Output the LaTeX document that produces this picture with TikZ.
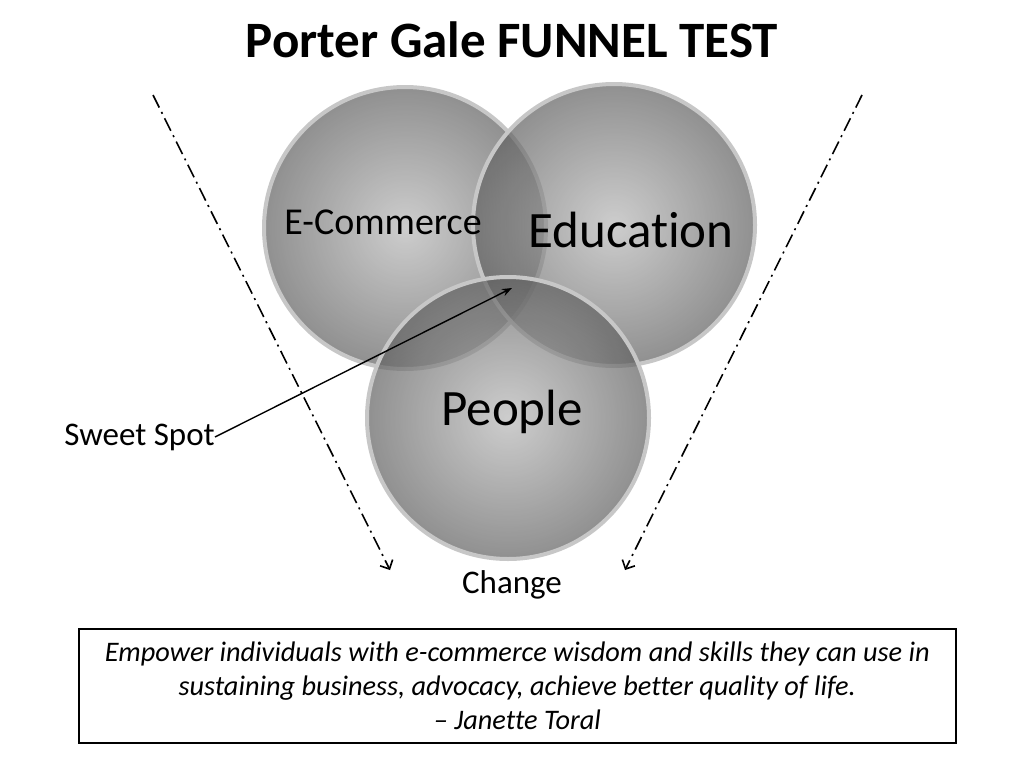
\documentclass[tikz,border=0pt]{standalone}
\usepackage{fontspec}
\setmainfont{Carlito}[Ligatures={NoCommon,TeX}]
\usetikzlibrary{arrows.meta}
\begin{document}
\begin{tikzpicture}[x=1pt,y=-1pt,
  venn/.style={circle,minimum size=282pt,inner color=black!28,outer color=black!62,fill opacity=0.7,draw=black!22,line width=4pt,draw opacity=1},
  funnel/.style={dash pattern=on 14pt off 5pt on 2pt off 5pt,line width=1.6pt,-{Straight Barb[length=7pt]}},
  lbl/.style={font=\fontsize{33}{38}\selectfont}]
\useasboundingbox (0,0) rectangle (1024,768);
\node[font=\bfseries\fontsize{51}{58}\selectfont] (title) at (512,40) {Porter Gale FUNNEL TEST};
\node[venn] (ec) at (405,228) {};
\node[venn] (ed) at (614,225) {};
\node[venn] (pe) at (508,418) {};
\node[font=\fontsize{38}{44}\selectfont] (ect) at (383,222) {E-Commerce};
\node[font=\fontsize{51}{58}\selectfont] (edt) at (631,230) {Education};
\node[font=\fontsize{51}{58}\selectfont] (pet) at (512,412) {People};
\coordinate (l1) at (153,95); \coordinate (l2) at (390,570);
\coordinate (r1) at (862,95); \coordinate (r2) at (625,570);
\draw[funnel] (l1) -- (l2);
\draw[funnel] (r1) -- (r2);
\node[lbl,anchor=east,inner sep=0pt] (ss) at (215,437) {Sweet Spot};
\coordinate (sst) at (512,288);
\draw[line width=1.4pt,-{Stealth[length=10pt]}] (ss.east) -- (sst);
\node[lbl] (ch) at (512,585) {Change};
\node[draw,line width=1.6pt,minimum width=877pt,minimum height=114pt,anchor=north west,inner sep=0pt] (box) at (78,628) {};
\node[font=\itshape\fontsize{28.3}{34}\selectfont,align=center] (quote) at (box.center) {Empower individuals with e-commerce wisdom and skills they can use in\\sustaining business, advocacy, achieve better quality of life.\\– Janette Toral};
\end{tikzpicture}
\end{document}
